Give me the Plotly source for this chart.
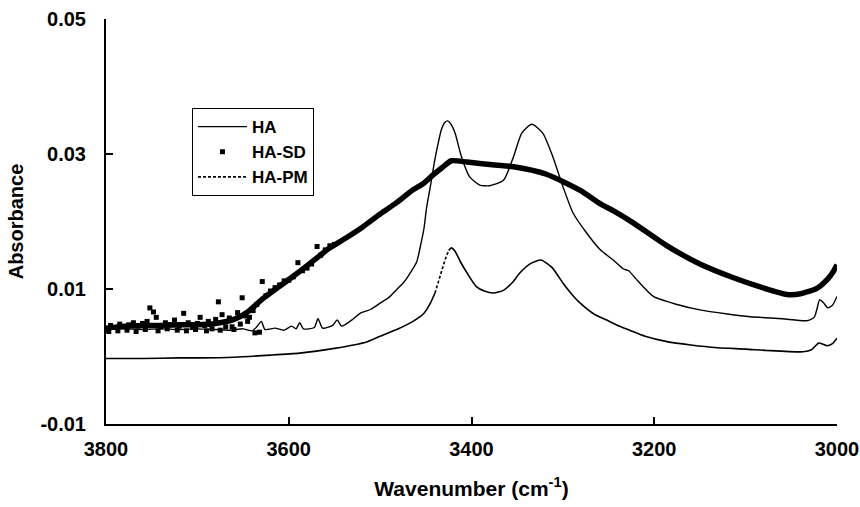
import plotly.graph_objects as go

# ---------------- data ----------------
ha_wn = [3800, 3780, 3760, 3740, 3720, 3700, 3680, 3664, 3650, 3640, 3635, 3630, 3626,
         3615, 3605, 3597, 3592, 3588, 3584, 3572, 3568, 3563, 3552, 3547, 3542, 3530,
         3522, 3510, 3500, 3490, 3482, 3474, 3467, 3460, 3456, 3452, 3449, 3445, 3441,
         3438, 3433, 3429, 3426, 3422, 3418, 3411, 3402, 3391, 3380, 3365, 3354, 3345,
         3334, 3322, 3311, 3300, 3289, 3274, 3259, 3245, 3234, 3228, 3220, 3201, 3175,
         3150, 3120, 3095, 3060, 3033, 3025, 3022, 3019, 3015, 3010, 3005, 3000]
ha_abs = [0.0040, 0.0041, 0.0040, 0.0041, 0.0040, 0.0041, 0.0040, 0.0039, 0.0041, 0.0038,
          0.0044, 0.0052, 0.0040, 0.0042, 0.0039, 0.0045, 0.0041, 0.0050, 0.0041, 0.0043,
          0.0056, 0.0042, 0.0046, 0.0054, 0.0045, 0.0055, 0.0064, 0.0070, 0.0079, 0.0088,
          0.0099, 0.0110, 0.0124, 0.0140, 0.0163, 0.0190, 0.0222, 0.0252, 0.0285, 0.0306,
          0.0336, 0.0347, 0.0349, 0.0343, 0.0331, 0.0296, 0.0266, 0.0254, 0.0253, 0.0261,
          0.0296, 0.0331, 0.0344, 0.0331, 0.0296, 0.0252, 0.0213, 0.0183, 0.0158, 0.0143,
          0.0130, 0.0127, 0.0115, 0.0089, 0.0077, 0.0069, 0.0063, 0.0059, 0.0056, 0.0053,
          0.0058, 0.0070, 0.0084, 0.0080, 0.0072, 0.0076, 0.0089]

sd_wn = [3800, 3780, 3760, 3740, 3720, 3700, 3680, 3660, 3645, 3628, 3610, 3591, 3573,
         3555, 3537, 3519, 3500, 3482, 3464, 3453, 3442, 3432, 3422, 3405, 3391, 3354,
         3318, 3281, 3259, 3245, 3223, 3186, 3150, 3114, 3077, 3055, 3040, 3022, 3010,
         3004, 3000]
sd_abs = [0.0042, 0.0045, 0.0046, 0.0046, 0.0047, 0.0047, 0.0049, 0.0055, 0.0066, 0.0086,
          0.0104, 0.0123, 0.0142, 0.0161, 0.0176, 0.0192, 0.0211, 0.0228, 0.0247, 0.0256,
          0.0269, 0.0280, 0.0290, 0.0288, 0.0286, 0.0281, 0.0270, 0.0246, 0.0226, 0.0216,
          0.0198, 0.0164, 0.0137, 0.0117, 0.0100, 0.0092, 0.0093, 0.0101, 0.0115, 0.0126,
          0.0136]

# scattered HA-SD points in the noisy region
sd_pts_wn = [3800, 3795, 3790, 3785, 3780, 3775, 3770, 3765, 3760, 3755, 3752, 3748, 3745,
             3740, 3735, 3730, 3725, 3720, 3715, 3710, 3705, 3700, 3697, 3692, 3688, 3684,
             3680, 3677, 3673, 3669, 3665, 3660, 3656, 3651, 3647, 3643, 3639, 3635, 3629,
             3625, 3620, 3615, 3610, 3605, 3600, 3595, 3590, 3585, 3580, 3575, 3569, 3565,
             3560, 3555, 3550,
             3797, 3787, 3777, 3767, 3757, 3743, 3733, 3722, 3712, 3702, 3690, 3675, 3662,
             3653, 3645, 3637, 3632]
sd_pts_abs = [0.0040, 0.0046, 0.0043, 0.0048, 0.0044, 0.0047, 0.0050, 0.0045, 0.0049,
              0.0052, 0.0072, 0.0066, 0.0058, 0.0044, 0.0050, 0.0047, 0.0054, 0.0045,
              0.0064, 0.0050, 0.0043, 0.0049, 0.0058, 0.0046, 0.0052, 0.0041, 0.0055,
              0.0081, 0.0062, 0.0044, 0.0057, 0.0040, 0.0065, 0.0087, 0.0060, 0.0058,
              0.0068, 0.0077, 0.0111, 0.0090, 0.0097, 0.0102, 0.0106, 0.0112, 0.0113,
              0.0118, 0.0139, 0.0127, 0.0131, 0.0137, 0.0163, 0.0150, 0.0158, 0.0164, 0.0166,
              0.0037, 0.0038, 0.0039, 0.0037, 0.0040, 0.0038, 0.0041, 0.0039, 0.0038,
              0.0040, 0.0038, 0.0039, 0.0044, 0.0048, 0.0052, 0.0035, 0.0036]

pm_wn = [3800, 3760, 3720, 3697, 3660, 3620, 3588, 3550, 3514, 3500, 3480, 3464, 3452,
         3445, 3440, 3436, 3432, 3429, 3425, 3422, 3418, 3412, 3405, 3395, 3386, 3376,
         3365, 3355, 3347, 3335, 3324, 3312, 3300, 3290, 3281, 3266, 3252, 3240, 3227,
         3210, 3186, 3160, 3131, 3100, 3077, 3037, 3028, 3020, 3015, 3011, 3005, 3000]
pm_abs = [-0.0003, -0.0003, -0.0002, -0.0002, -0.0001, 0.0002, 0.0005, 0.0012, 0.0022,
          0.0030, 0.0041, 0.0052, 0.0064, 0.0079, 0.0094, 0.0112, 0.0130, 0.0143, 0.0157,
          0.0161, 0.0156, 0.0140, 0.0124, 0.0104, 0.0097, 0.0094, 0.0098, 0.0110, 0.0124,
          0.0138, 0.0143, 0.0132, 0.0109, 0.0092, 0.0079, 0.0063, 0.0054, 0.0046, 0.0039,
          0.0030, 0.0022, 0.0017, 0.0013, 0.0011, 0.0009, 0.0007, 0.0010, 0.0020, 0.0018,
          0.0016, 0.0019, 0.0027]

x_tick_vals = [3800, 3600, 3400, 3200, 3000]
x_tick_text = ["3800", "3600", "3400", "3200", "3000"]
y_tick_vals = [-0.01, 0.01, 0.03, 0.05]
y_tick_text = ["-0.01", "0.01", "0.03", "0.05"]

# ---------------- figure ----------------
FONT = "Liberation Sans, Arial, sans-serif"
fig = go.Figure()

fig.add_trace(go.Scatter(x=ha_wn, y=ha_abs, mode="lines", name="HA",
                         line=dict(color="black", width=1.4, shape="spline", smoothing=0.6),
                         legendrank=1))

fig.add_trace(go.Scatter(x=sd_wn, y=sd_abs, mode="lines", name="HA-SD", showlegend=False,
                         line=dict(color="black", width=5.5, shape="spline", smoothing=0.6)))
fig.add_trace(go.Scatter(x=sd_pts_wn, y=sd_pts_abs, mode="markers", name="HA-SD",
                         marker=dict(symbol="square", size=5, color="black"),
                         legendrank=2))

# HA-PM: the steep rise shows as a dashed segment, the rest reads as solid
i1 = pm_wn.index(3440)
i2 = pm_wn.index(3425)
fig.add_trace(go.Scatter(x=pm_wn[:i1 + 1], y=pm_abs[:i1 + 1], mode="lines", showlegend=False,
                         line=dict(color="black", width=1.6, shape="spline", smoothing=0.6)))
fig.add_trace(go.Scatter(x=pm_wn[i1:i2 + 1], y=pm_abs[i1:i2 + 1], mode="lines", name="HA-PM",
                         line=dict(color="black", width=1.6, dash="3px,2px"),
                         legendrank=3))
fig.add_trace(go.Scatter(x=pm_wn[i2:], y=pm_abs[i2:], mode="lines", showlegend=False,
                         line=dict(color="black", width=1.6, shape="spline", smoothing=0.6)))

fig.update_layout(
    width=860, height=507,
    margin=dict(l=106, r=23, t=19, b=83),
    paper_bgcolor="white", plot_bgcolor="white",
    font=dict(family=FONT, color="black", size=19, weight="bold"),
    showlegend=True,
    legend=dict(x=0.1176, y=0.78, xanchor="left", yanchor="top",
                bordercolor="black", borderwidth=1, bgcolor="white",
                font=dict(family=FONT, size=17, color="black", weight="bold"),
                itemwidth=49, tracegroupgap=0,
                entrywidth=72, entrywidthmode="pixels"),
)
fig.update_xaxes(range=[3800, 3000], tickvals=x_tick_vals, ticktext=x_tick_text,
                 automargin=False,
                 showgrid=False, zeroline=False, showline=True, linecolor="black",
                 linewidth=2, ticks="inside", ticklen=7, tickwidth=1.5, tickcolor="black",
                 ticklabelstandoff=6,
                 tickfont=dict(family=FONT, size=20, weight="bold"),
                 title=dict(text="Wavenumber (cm<sup>-1</sup>)", standoff=22,
                            font=dict(family=FONT, size=21, weight="bold")))
fig.update_yaxes(range=[-0.01, 0.05], tickvals=y_tick_vals, ticktext=y_tick_text,
                 automargin=False,
                 showgrid=False, zeroline=False, showline=True, linecolor="black",
                 linewidth=2, ticks="inside", ticklen=7, tickwidth=1.5, tickcolor="black",
                 ticklabelstandoff=14,
                 tickfont=dict(family=FONT, size=20, weight="bold"),
                 title=dict(text="Absorbance", standoff=11,
                            font=dict(family=FONT, size=20, weight="bold")))

# remove the page's default 8px body margin so the figure sits at the window origin
fig.write_html("out.html", config={"displayModeBar": False},
               post_script="document.body.style.margin='0';document.body.style.overflow='hidden';")
